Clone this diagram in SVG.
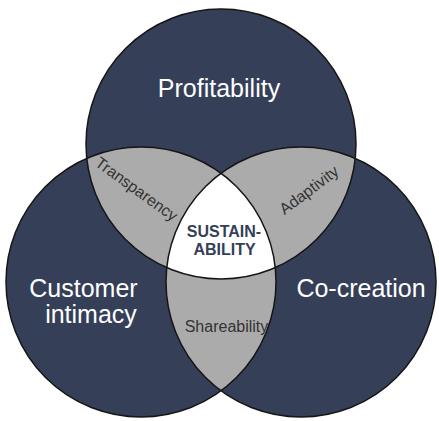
<svg xmlns="http://www.w3.org/2000/svg" width="439" height="421" viewBox="0 0 439 421">
  <style>
    .set { fill: #353f58; }
    .pair { fill: #ababab; }
    .core { fill: #ffffff; }
    .rim { fill: none; stroke: #151515; stroke-width: 1.5; }
    .big { font-family: "Liberation Sans", Arial, sans-serif; font-size: 25px; fill: #ffffff; text-anchor: middle; }
    .small { font-family: "Liberation Sans", Arial, sans-serif; font-size: 16px; fill: #333333; text-anchor: middle; }
    .hub { font-family: "Liberation Sans", Arial, sans-serif; font-size: 16px; font-weight: bold; fill: #353f58; text-anchor: middle; }
  </style>
  <defs>
    <circle id="cTop" cx="221" cy="144" r="135"/>
    <circle id="cLeft" cx="141" cy="282" r="135"/>
    <circle id="cRight" cx="301" cy="282" r="135"/>
    <clipPath id="clipTop"><use href="#cTop"/></clipPath>
    <clipPath id="clipLeft"><use href="#cLeft"/></clipPath>
    <clipPath id="clipRight"><use href="#cRight"/></clipPath>
  </defs>

  <rect width="439" height="421" fill="#ffffff"/>

  <!-- the three sets -->
  <g id="node-profitability">
    <use href="#cTop" class="set"/>
  </g>
  <g id="node-customer-intimacy">
    <use href="#cLeft" class="set"/>
  </g>
  <g id="node-co-creation">
    <use href="#cRight" class="set"/>
  </g>

  <!-- pairwise overlaps -->
  <g id="node-transparency">
    <use href="#cTop" class="pair" clip-path="url(#clipLeft)"/>
  </g>
  <g id="node-adaptivity">
    <use href="#cTop" class="pair" clip-path="url(#clipRight)"/>
  </g>
  <g id="node-shareability">
    <use href="#cLeft" class="pair" clip-path="url(#clipRight)"/>
  </g>

  <!-- triple overlap -->
  <g id="node-sustainability">
    <g clip-path="url(#clipRight)">
      <use href="#cTop" class="core" clip-path="url(#clipLeft)"/>
    </g>
  </g>

  <!-- outlines -->
  <g id="outlines">
    <use href="#cTop" class="rim"/>
    <use href="#cLeft" class="rim"/>
    <use href="#cRight" class="rim"/>
  </g>

  <!-- labels -->
  <g id="labels">
    <text class="big" x="219" y="97">Profitability</text>
    <text class="big" x="83.5" y="297">Customer</text>
    <text class="big" x="91" y="323">intimacy</text>
    <text class="big" x="361" y="297">Co-creation</text>
    <text class="small" transform="translate(136.5 189) rotate(36)" y="5.5">Transparency</text>
    <text class="small" transform="translate(309 190) rotate(-37)" y="5.5">Adaptivity</text>
    <text class="small" x="226.5" y="331.5">Shareability</text>
    <text class="hub" x="224" y="237">SUSTAIN-</text>
    <text class="hub" x="224.5" y="255">ABILITY</text>
  </g>
</svg>
